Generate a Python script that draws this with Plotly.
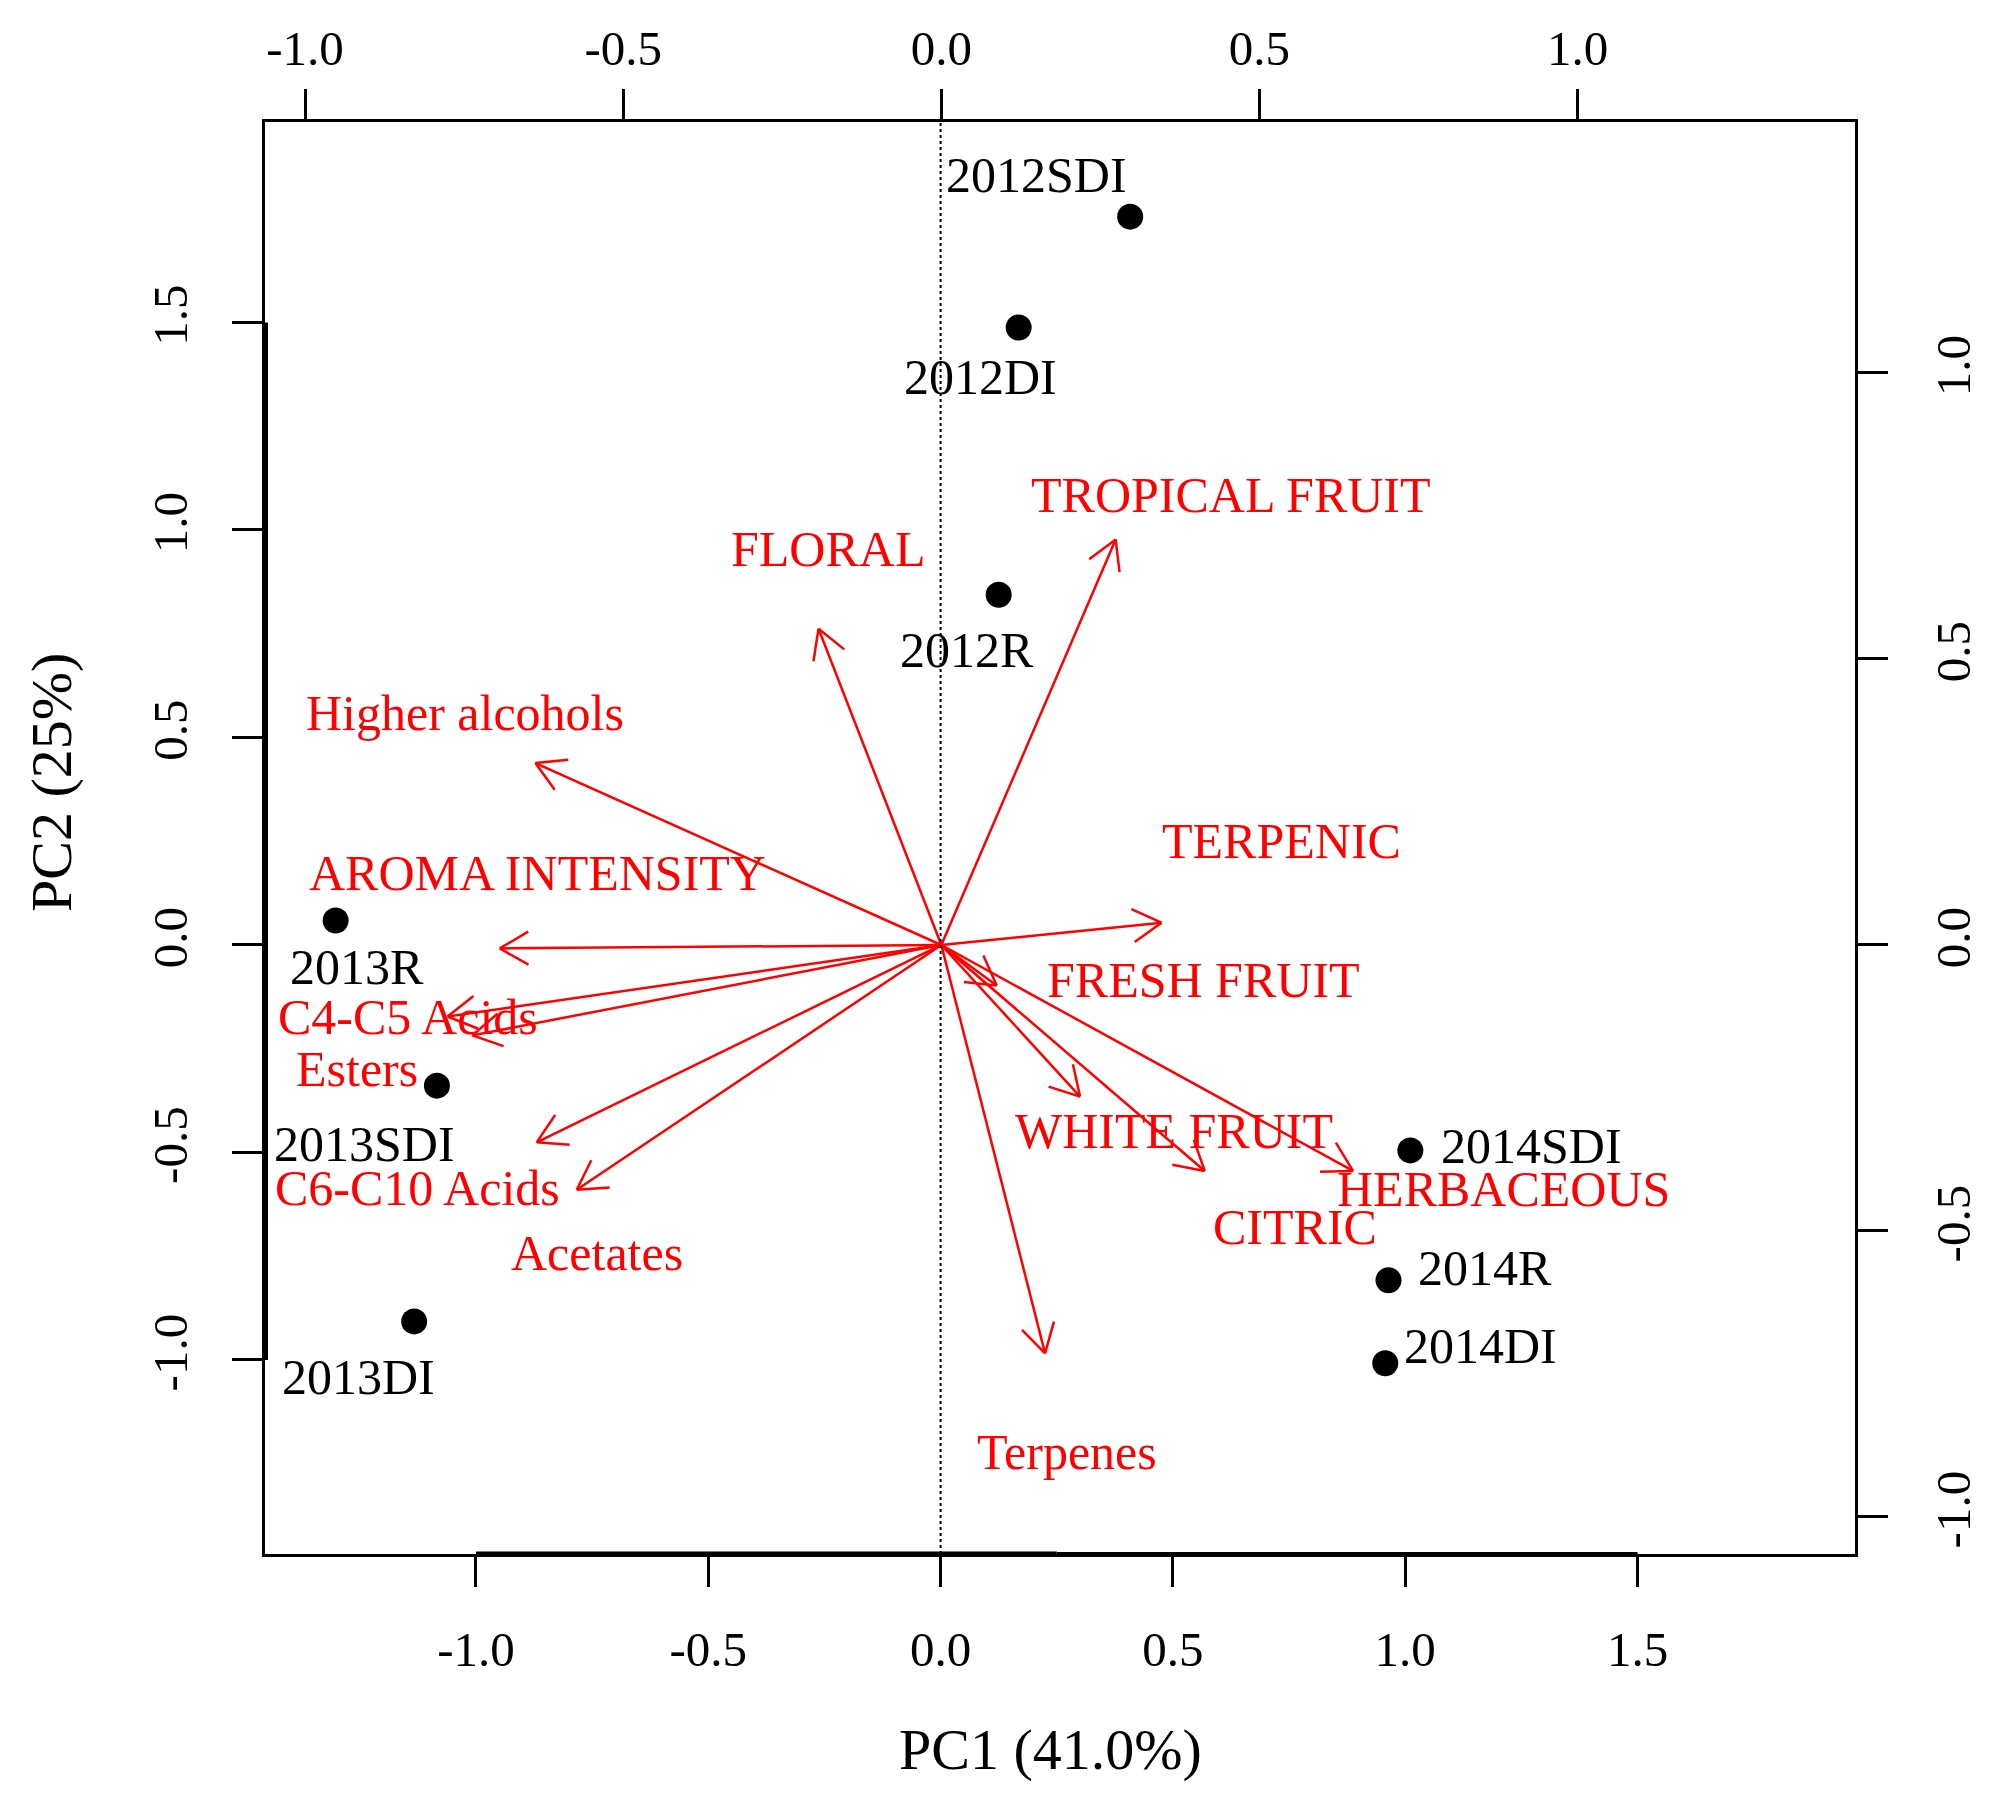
import math

import plotly.graph_objects as go

# sample scores (PC1, PC2) -- bottom / left axes
samples = ["2012SDI", "2012DI", "2012R", "2013R", "2013SDI", "2013DI",
           "2014SDI", "2014R", "2014DI"]
pc1 = [0.408, 0.168, 0.125, -1.302, -1.084, -1.133, 1.011, 0.964, 0.957]
pc2 = [1.755, 1.488, 0.844, 0.059, -0.339, -0.907, -0.495, -0.808, -1.008]
sample_lab_x = [0.207, 0.085, 0.056, -1.257, -1.240, -1.252, 1.271, 1.171, 1.161]
sample_lab_y = [1.846, 1.358, 0.700, -0.062, -0.490, -1.051, -0.494, -0.787, -0.976]

# variable loadings -- top / right axes
variables = ["TROPICAL FRUIT", "FLORAL", "Higher alcohols", "AROMA INTENSITY",
             "TERPENIC", "FRESH FRUIT", "WHITE FRUIT", "CITRIC", "HERBACEOUS",
             "Terpenes", "C4-C5 Acids", "Esters", "C6-C10 Acids", "Acetates"]
load1 = [0.274, -0.193, -0.638, -0.694, 0.346, 0.087, 0.218, 0.414, 0.647,
         0.163, -0.776, -0.737, -0.636, -0.573]
load2 = [0.709, 0.553, 0.318, -0.006, 0.039, -0.071, -0.265, -0.395, -0.395,
         -0.714, -0.125, -0.158, -0.345, -0.428]
var_lab_x = [0.456, -0.178, -0.749, -0.634, 0.534, 0.412, 0.366, 0.556, 0.883,
             0.198, -0.838, -0.919, -0.824, -0.541]
var_lab_y = [0.779, 0.686, 0.399, 0.119, 0.174, -0.068, -0.332, -0.500, -0.434,
             -0.893, -0.133, -0.224, -0.431, -0.545]

score_ticks = [-1.0, -0.5, 0.0, 0.5, 1.0, 1.5]
load_ticks = [-1.0, -0.5, 0.0, 0.5, 1.0]

# layout geometry (page has an 8px body margin)
OFF = 8
W, H = 2006 - 2 * OFF, 1798 - 2 * OFF
ML, MT = 265 - OFF, 122 - OFF
PW, PH = 1590, 1432
MR, MB = W - ML - PW, H - MT - PH
xr1, yr1 = [-1.454, 1.968], [-1.4675, 1.9831]
xr2, yr2 = [-1.063, 1.436], [-1.0647, 1.4388]
kx = PW / (xr2[1] - xr2[0])
ky = PH / (yr2[1] - yr2[0])

FONT = "Liberation Serif, Times New Roman, serif"
RED = "#ff0000"

fig = go.Figure()

# arrows: shaft + open head, head drawn in pixel space
ax, ay = [], []
head_len, head_ang = 33, math.radians(30)
for lx, ly in zip(load1, load2):
    ax += [0, lx, None]
    ay += [0, ly, None]
    theta = math.atan2(ly * ky, lx * kx) + math.pi
    for s in (-1, 1):
        a = theta + s * head_ang
        ax += [lx + head_len * math.cos(a) / kx, lx, None]
        ay += [ly + head_len * math.sin(a) / ky, ly, None]

fig.add_trace(go.Scatter(x=ax, y=ay, mode="lines", xaxis="x2", yaxis="y2",
                         line=dict(color=RED, width=2.5), hoverinfo="skip",
                         showlegend=False))

fig.add_trace(go.Scatter(x=pc1, y=pc2, mode="markers", text=samples,
                         marker=dict(color="black", size=26),
                         showlegend=False))

for name, x, y in zip(samples, sample_lab_x, sample_lab_y):
    fig.add_annotation(x=x, y=y, xref="x", yref="y", text=name,
                       showarrow=False, xanchor="center", yanchor="middle",
                       yshift=4, font=dict(size=50, color="black"))
for name, x, y in zip(variables, var_lab_x, var_lab_y):
    fig.add_annotation(x=x, y=y, xref="x2", yref="y2", text=name,
                       showarrow=False, xanchor="center", yanchor="middle",
                       yshift=4, font=dict(size=50, color=RED))

# axis titles (positions measured in page pixels)
plot_left, plot_bottom = ML + OFF, MT + OFF + PH
fig.add_annotation(x=(1050 - plot_left) / PW, y=-(1749 - plot_bottom) / PH,
                   xref="paper", yref="paper", text="PC1 (41.0%)",
                   xanchor="center", yanchor="middle",
                   showarrow=False, font=dict(size=58))
fig.add_annotation(x=-(plot_left - 51) / PW, y=(plot_bottom - 783) / PH,
                   xref="paper", yref="paper", text="PC2 (25%)",
                   textangle=-90, xanchor="center", yanchor="middle",
                   showarrow=False, font=dict(size=58))

# dotted zero line and heavy axis segments
fig.add_shape(type="line", xref="x", yref="paper", x0=0, x1=0, y0=0, y1=1,
              line=dict(color="black", width=2, dash="dot"))
fig.add_shape(type="line", xref="paper", yref="y", x0=0, x1=0,
              y0=score_ticks[0], y1=score_ticks[-1],
              line=dict(color="black", width=6))
fig.add_shape(type="line", xref="x", yref="paper", x0=score_ticks[0],
              x1=0.25, y0=0, y1=0,
              line=dict(color="black", width=5))
fig.add_shape(type="line", xref="x", yref="paper", x0=0.25,
              x1=score_ticks[-1], y0=0, y1=0,
              line=dict(color="black", width=4))

axis_common = dict(showgrid=False, zeroline=False, showline=True,
                   linecolor="black", linewidth=3, ticks="outside",
                   ticklen=30, tickwidth=3, tickcolor="black",
                   tickfont=dict(size=49, family=FONT, color="black"))

fig.update_layout(
    width=W, height=H,
    margin=dict(l=ML, r=MR, t=MT, b=MB),
    paper_bgcolor="white", plot_bgcolor="white",
    font=dict(family=FONT, color="black"),
    xaxis=dict(range=xr1, tickvals=score_ticks,
               ticktext=[f"{v:.1f}" for v in score_ticks],
               ticklabelstandoff=20, **axis_common),
    yaxis=dict(range=yr1, tickvals=score_ticks,
               ticktext=[f"{v:.1f}" for v in score_ticks],
               tickangle=-90, ticklabelstandoff=25, **axis_common),
    xaxis2=dict(range=xr2, overlaying="x", side="top", anchor="y",
                tickvals=load_ticks, ticktext=[f"{v:.1f}" for v in load_ticks],
                ticklabelstandoff=4, **axis_common),
    yaxis2=dict(range=yr2, overlaying="y", side="right", anchor="x",
                tickvals=load_ticks, ticktext=[f"{v:.1f}" for v in load_ticks],
                tickangle=-90, ticklabelstandoff=23, **axis_common),
)

fig.write_html("out.html")
